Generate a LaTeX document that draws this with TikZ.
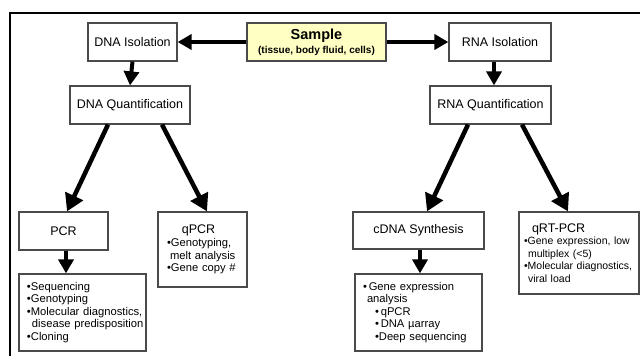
\documentclass[tikz,border=0pt]{standalone}
\usepackage{fontspec}
\setmainfont{Liberation Sans}
\usetikzlibrary{arrows.meta}
\definecolor{sampleyellow}{HTML}{FFFFC4}
\definecolor{boxline}{HTML}{4A4A4A}
\newcommand\oneline[1]{\mbox{#1}}
\tikzset{
  box/.style={draw=boxline, line width=1.2pt, fill=white, inner sep=0pt, align=center,
              font=\fontsize{12.5}{15}\selectfont},
  listbox/.style={box, align=left, inner ysep=0pt, font=\fontsize{11.2}{12.6}\selectfont},
  flow/.style={line width=4pt, -{Triangle[length=14pt,width=15pt]}},
  bigflow/.style={line width=4.5pt, -{Triangle[length=17pt,width=19pt]}},
}
\begin{document}
\begin{tikzpicture}[x=1pt,y=-1pt]
\useasboundingbox (0,0) rectangle (640,356);
\draw[line width=2pt] (640,13) -- (10,13) -- (10,357);

\node[box, fill=sampleyellow, minimum width=139pt, minimum height=38pt] (s) at (316.5,42)
  {{\fontsize{14.5}{15}\selectfont\bfseries Sample}\\[-1pt]{\fontsize{10}{11}\selectfont\bfseries (tissue, body fluid, cells)}};
\node[box, minimum width=89pt, minimum height=38pt] (di) at (132.5,42) {DNA Isolation};
\node[box, minimum width=102pt, minimum height=38pt] (ri) at (500,42) {RNA Isolation};
\node[box, minimum width=120pt, minimum height=38pt] (dq) at (130,105) {DNA Quantification};
\node[box, minimum width=121pt, minimum height=38pt] (rq) at (490.5,105) {RNA Quantification};
\node[box, minimum width=89pt, minimum height=38pt] (pcr) at (63.5,231) {PCR};
\node[box, minimum width=131pt, minimum height=37pt] (cd) at (418.5,230.5) {cDNA Synthesis};

\node[listbox, inner xsep=9pt, text width=71pt, minimum height=75pt] (qp) at (202.5,249.5)
  {\makebox[\linewidth]{\fontsize{12.5}{15}\selectfont qPCR\hspace{8pt}}\\
   \oneline{•Genotyping,}\\
   \oneline{\hspace*{3pt}melt analysis}\\
   \oneline{•Gene copy \#}};
\node[listbox, font=\fontsize{10.5}{12.6}\selectfont, inner xsep=5pt, text width=110pt, minimum height=82pt] (qr) at (579,253)
  {\oneline{\hspace*{8pt}{\fontsize{12.5}{15}\selectfont qRT-PCR}}\\
   \oneline{•Gene expression, low}\\
   \oneline{\hspace*{4pt}multiplex (<5)}\\
   \oneline{•Molecular diagnostics,}\\
   \oneline{\hspace*{4pt}viral load}};
\node[listbox, inner xsep=8pt, text width=111pt, minimum height=77pt] (pl) at (82.5,312.5)
  {\oneline{•Sequencing}\\
   \oneline{•Genotyping}\\
   \oneline{•Molecular diagnostics,}\\
   \oneline{\hspace*{5pt}disease predisposition}\\
   \oneline{•Cloning}};
\node[listbox, inner xsep=8pt, text width=111pt, minimum height=77pt] (cl) at (418.5,312.5)
  {\oneline{•\,Gene expression}\\
   \oneline{\hspace*{4pt}analysis}\\
   \oneline{\hspace*{12pt}•\,qPCR}\\
   \oneline{\hspace*{12pt}•\,DNA µarray}\\
   \oneline{\hspace*{12pt}•Deep sequencing}};

\draw[flow] (s.west) -- (di.east);
\draw[flow] (s.east) -- (ri.west);
\draw[flow] (di.south) -- (dq.north);
\draw[flow] ([xshift=-6pt]ri.south) -- ([xshift=3.5pt]rq.north);
\draw[bigflow] ([xshift=-22pt]dq.south) -- ([xshift=3.5pt]pcr.north);
\draw[bigflow] ([xshift=32pt]dq.south) -- ([xshift=4.5pt]qp.north);
\draw[bigflow] ([xshift=-22.5pt]rq.south) -- ([xshift=8.5pt]cd.north);
\draw[bigflow] ([xshift=31.5pt]rq.south) -- ([xshift=-11pt]qr.north);
\draw[flow] ([xshift=2.5pt]pcr.south) -- ([xshift=2.5pt]pcr.south |- pl.north);
\draw[flow] ([xshift=1.5pt]cd.south) -- ([xshift=1.5pt]cd.south |- cl.north);
\end{tikzpicture}
\end{document}
